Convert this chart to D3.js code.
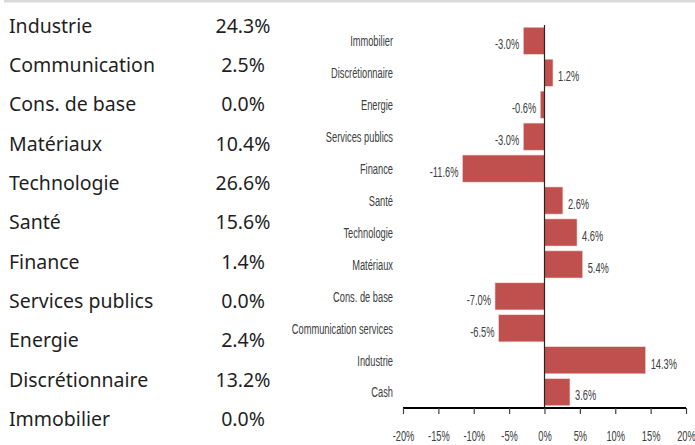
<!DOCTYPE html>
<html>
<head>
<meta charset="utf-8">
<script src="https://cdn.jsdelivr.net/npm/d3@7"></script>
<style>
  body { margin: 0; background: #fff; }
  svg { display: block; }
  .cond { font-family: "Liberation Sans", Arial, sans-serif; }
</style>
</head>
<body>
<div id="wrapper"></div>
<script>
// left table: sector weights
const tableSectors = ["Industrie", "Communication", "Cons. de base", "Matériaux", "Technologie", "Santé",
  "Finance", "Services publics", "Energie", "Discrétionnaire", "Immobilier"];
const tableWeights = ["24.3%", "2.5%", "0.0%", "10.4%", "26.6%", "15.6%", "1.4%", "0.0%", "2.4%", "13.2%", "0.0%"];

// right chart: active weights
const barSectors = ["Immobilier", "Discrétionnaire", "Energie", "Services publics", "Finance", "Santé",
  "Technologie", "Matériaux", "Cons. de base", "Communication services", "Industrie", "Cash"];
const barValues = [-3.0, 1.2, -0.6, -3.0, -11.6, 2.6, 4.6, 5.4, -7.0, -6.5, 14.3, 3.6];
const xTicks = [-20, -15, -10, -5, 0, 5, 10, 15, 20];

function drawChart() {
  const width = 695, height = 445;
  const squeeze = 0.62; // narrow look for the chart texts

  const svg = d3.select("#wrapper")
    .append("svg")
    .attr("width", width)
    .attr("height", height);

  // top grey rule
  svg.append("rect")
    .attr("x", 4).attr("y", 0)
    .attr("width", width - 4).attr("height", 2.5)
    .attr("fill", "#d9d9d9");

  // 1. table
  const rowScale = d3.scalePoint()
    .domain(tableSectors)
    .range([26, 419]);

  const rows = svg.selectAll(".row")
    .data(tableSectors)
    .enter().append("g")
    .attr("class", "row")
    .attr("transform", d => `translate(0, ${rowScale(d)})`);

  rows.append("text")
    .attr("x", 9)
    .attr("dy", "0.35em")
    .style("font-family", "'Noto Sans', sans-serif")
    .style("font-size", "19.5px")
    .style("fill", "#1f1f1f")
    .text(d => d);

  rows.append("text")
    .attr("x", 243)
    .attr("dy", "0.35em")
    .attr("text-anchor", "middle")
    .style("font-family", "'Noto Sans', sans-serif")
    .style("font-size", "19.5px")
    .style("fill", "#1f1f1f")
    .text((d, i) => tableWeights[i]);

  // 2. bar chart
  const x = d3.scaleLinear()
    .domain([-20, 20])
    .range([403, 686]);

  const y = d3.scaleBand()
    .domain(barSectors)
    .range([25, 408])
    .paddingInner(0.15)
    .paddingOuter(0.07);

  const bounds = svg.append("g");

  bounds.selectAll(".bar")
    .data(barValues)
    .enter().append("rect")
    .attr("class", "bar")
    .attr("x", d => x(Math.min(0, d)))
    .attr("width", d => Math.abs(x(d) - x(0)))
    .attr("y", (d, i) => y(barSectors[i]))
    .attr("height", y.bandwidth())
    .attr("fill", "#c0504d")
    .attr("stroke", "#f2dcdb")
    .attr("stroke-width", 0.6);

  // value labels
  bounds.selectAll(".val")
    .data(barValues)
    .enter().append("text")
    .attr("class", "val cond")
    .attr("transform", (d, i) => {
      const tx = d < 0 ? x(d) - 4 : x(d) + 5;
      const ty = y(barSectors[i]) + y.bandwidth() / 2 + 3;
      return `translate(${tx}, ${ty}) scale(${squeeze}, 1)`;
    })
    .attr("dy", "0.35em")
    .attr("text-anchor", d => d < 0 ? "end" : "start")
    .style("font-size", "15px")
    .style("fill", "#404040")
    .text(d => d.toFixed(1) + "%");

  // category labels
  bounds.selectAll(".cat")
    .data(barSectors)
    .enter().append("text")
    .attr("class", "cat cond")
    .attr("transform", d => `translate(393, ${y(d) + y.bandwidth() / 2}) scale(${squeeze}, 1)`)
    .attr("dy", "0.35em")
    .attr("text-anchor", "end")
    .style("font-size", "15px")
    .style("fill", "#404040")
    .text(d => d);

  // zero line
  bounds.append("line")
    .attr("x1", x(0)).attr("x2", x(0))
    .attr("y1", 25).attr("y2", 409)
    .attr("stroke", "#262626")
    .attr("stroke-width", 1.2);

  // x axis
  const xAxis = d3.axisBottom(x)
    .tickValues(xTicks)
    .tickSize(6)
    .tickPadding(0)
    .tickFormat(d => d + "%");

  const axisG = svg.append("g")
    .attr("transform", "translate(0, 408)")
    .call(xAxis);

  axisG.select(".domain")
    .attr("d", `M${x(-20)},0H${x(20)}`)
    .attr("stroke", "#000")
    .attr("stroke-width", 2);

  axisG.selectAll(".tick line")
    .attr("stroke", "#404040")
    .attr("stroke-width", 1.2);

  // labels sit low, just inside the bottom edge
  axisG.selectAll(".tick text")
    .attr("class", "cond")
    .attr("y", 0)
    .attr("dy", 0)
    .attr("transform", `translate(0, 33) scale(${squeeze}, 1)`)
    .style("font-size", "15px")
    .style("fill", "#404040");
}

drawChart();
</script>
</body>
</html>
